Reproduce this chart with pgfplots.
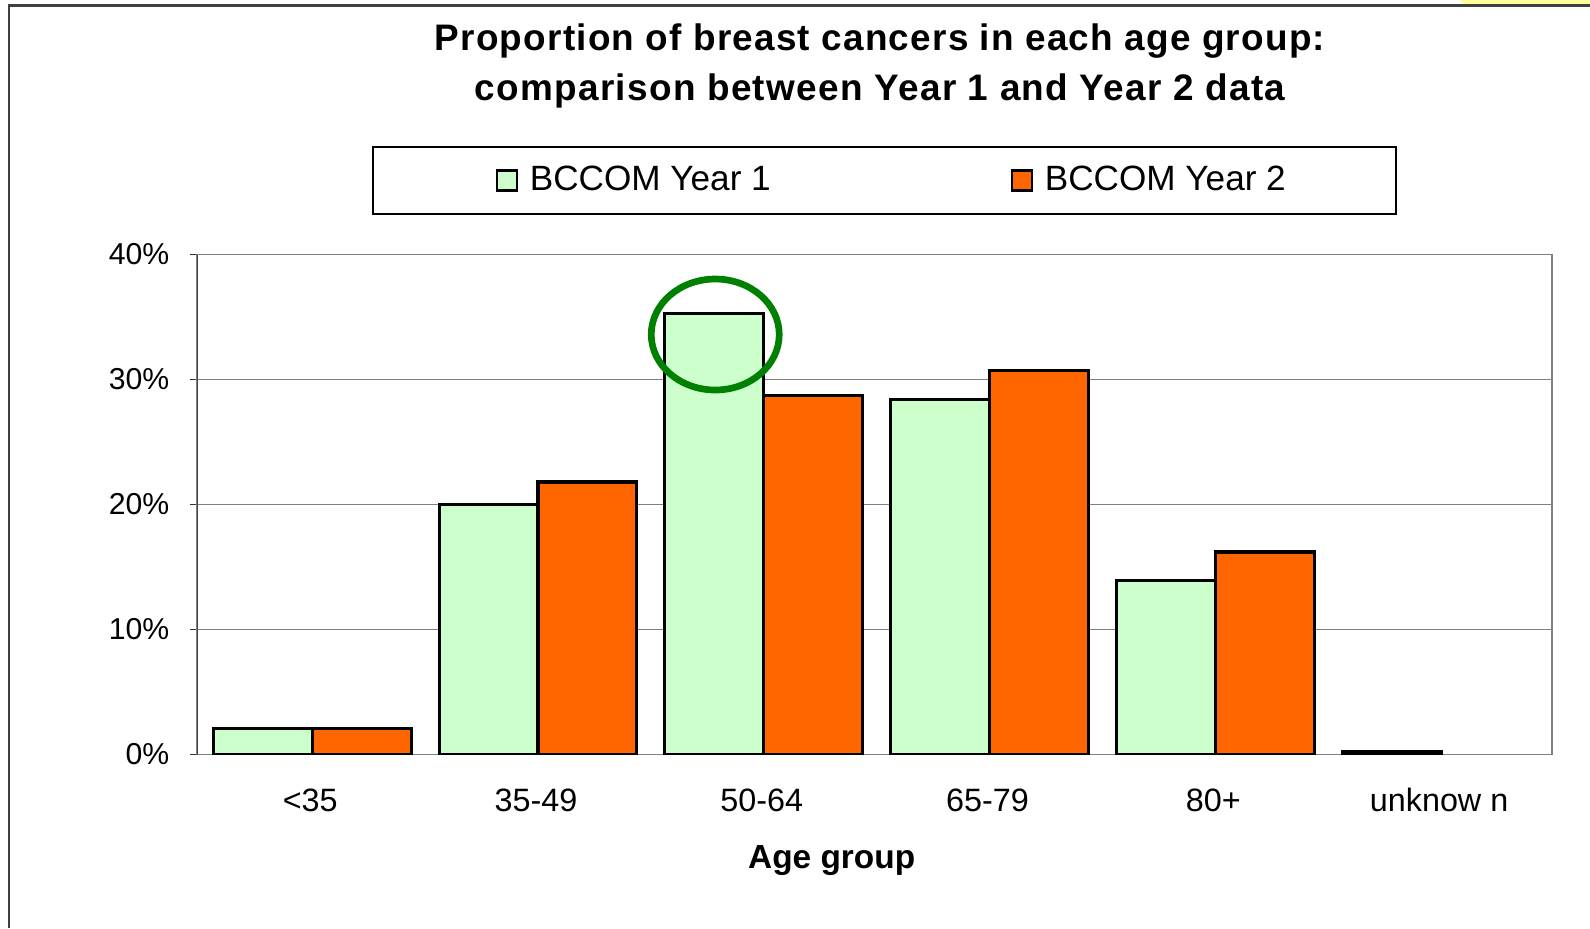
\documentclass[border=0pt]{standalone}
\usepackage{pgfplots}
\pgfplotsset{compat=1.18}
\usepackage{fontspec}
\setmainfont{Liberation Sans}
\definecolor{yone}{HTML}{CCFFCC}
\definecolor{ytwo}{HTML}{FF6600}
\definecolor{circ}{HTML}{008000}
\definecolor{framegray}{HTML}{404040}
\definecolor{axgray}{HTML}{808080}
\definecolor{note}{HTML}{FFFF99}

\pgfplotsset{
  sqlegend/.style={legend image code/.code={\draw[##1, line width=0.6pt] (0cm,-0.1cm) rectangle (0.2cm,0.1cm);}},
  sqlegendA/.style={legend image code/.code={\path (-0.12cm,0); \draw[##1, line width=0.6pt] (0cm,-0.1cm) rectangle (0.2cm,0.1cm);}}
}

\pgfplotstableread{
x y
0 2.1
1 20.0
2 35.3
3 28.4
4 13.9
5 0.25
}\yearone
\pgfplotstableread{
x y
0 2.1
1 21.8
2 28.7
3 30.75
4 16.2
}\yeartwo

\begin{document}
\begin{tikzpicture}
\path[use as bounding box] (0,0) rectangle (15.9cm,9.28cm);
\fill[note] (14.60cm,9.28cm) -- (15.9cm,9.28cm) -- (15.9cm,9.225cm) -- (14.65cm,9.225cm) -- cycle;
\draw[framegray, line width=0.6pt] (0.09cm,0) -- (0.09cm,9.225cm) -- (15.9cm,9.225cm);

\node[anchor=base, font=\fontsize{10.5}{12}\selectfont\bfseries\addfontfeature{LetterSpace=3.3}] at (8.80cm,8.773cm) {Proportion of breast cancers in each age group:};
\node[anchor=base, font=\fontsize{10.5}{12}\selectfont\bfseries\addfontfeature{LetterSpace=3.6}] at (8.80cm,8.28cm) {comparison between Year 1 and Year 2 data};
\node[anchor=base, font=\fontsize{9.5}{11}\selectfont\bfseries] at (8.317cm,0.597cm) {Age group};

\begin{axis}[
  at={(1.973cm,1.735cm)}, anchor=south west,
  scale only axis, width=13.547cm, height=5cm,
  xmin=-0.5, xmax=5.5, ymin=0, ymax=40,
  xtick={0,1,2,3,4,5},
  xticklabels={<35,35-49,50-64,65-79,80+,unknow n},
  ytick={0,10,20,30,40},
  yticklabels={0\%,10\%,20\%,30\%,40\%},
  /pgf/number format/assume math mode=true,
  ytick pos=left,
  tick align=outside,
  major tick length=0.7mm,
  xtick style={draw=none},
  ytick style={black!80, line width=0.4pt},
  axis line style={axgray, line width=0.5pt},
  ymajorgrids, grid style={axgray, line width=0.45pt},
  yticklabel style={font=\fontsize{8.6}{10}\selectfont, anchor=east, inner sep=0pt, xshift=-2.03mm},
  xticklabel style={font=\fontsize{9.2}{11}\selectfont, anchor=base, inner sep=0pt, yshift=-5.0mm},
  ybar, bar width=0.438,
  legend columns=2,
  legend style={at={(0.5073,1.148)}, anchor=center, draw=black, line width=0.5pt,
    inner xsep=0pt, inner ysep=0pt, minimum width=10.23cm, minimum height=0.67cm,
    font=\fontsize{10}{12}\selectfont,
    nodes={inner sep=0pt, minimum width=0pt, minimum height=0pt},
    /tikz/every odd column/.style={column sep=1.2mm},
    /tikz/every even column/.style={column sep=2.4cm}},
]
\addplot[fill=yone, draw=black, line width=0.9pt, bar shift=-0.21, sqlegendA]
  table[x=x, y=y] {\yearone};
\addlegendentry{BCCOM Year 1}
\addplot[fill=ytwo, draw=black, line width=0.9pt, bar shift=0.228, sqlegend]
  table[x=x, y=y] {\yeartwo};
\addlegendentry{BCCOM Year 2}
\draw[black!85, line width=0.5pt] (rel axis cs:0,0) -- (rel axis cs:0,1);
\draw[circ, line width=1.9pt] (axis cs:1.794,33.6) ellipse [x radius=0.64cm, y radius=0.555cm];
\end{axis}
\end{tikzpicture}
\end{document}
